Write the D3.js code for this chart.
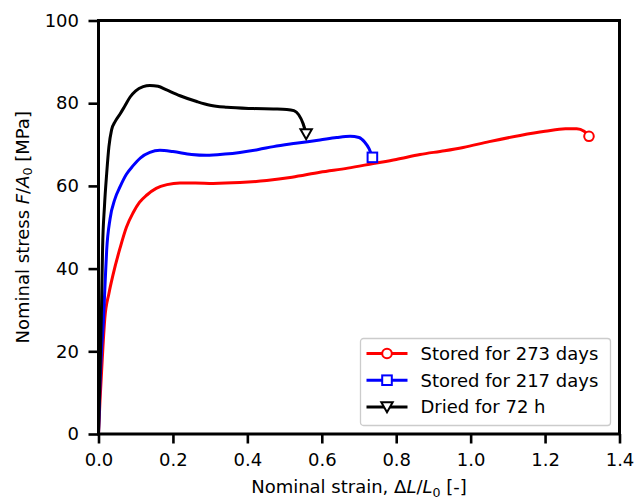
<!DOCTYPE html>
<html>
<head>
<meta charset="utf-8">
<script src="https://cdn.jsdelivr.net/npm/d3@7"></script>
<style>
  body { margin: 0; background: #fff; }
  svg { font-family: "DejaVu Sans", sans-serif; }
</style>
</head>
<body>
<div id="chart"></div>
<script>
// strain [-], stress [MPa]
const stored273 = [
  [0, 0], [0.004, 8], [0.01, 18], [0.017, 28], [0.028, 34], [0.039, 38.5],
  [0.058, 45], [0.075, 50], [0.093, 53.5], [0.11, 56], [0.13, 57.8], [0.155, 59.4],
  [0.184, 60.3], [0.219, 60.7], [0.26, 60.7], [0.308, 60.6], [0.38, 60.8],
  [0.452, 61.3], [0.52, 62.1], [0.595, 63.3], [0.67, 64.3], [0.738, 65.4],
  [0.8, 66.4], [0.864, 67.6], [0.93, 68.5], [0.98, 69.3], [1.05, 70.7],
  [1.133, 72.2], [1.2, 73.2], [1.255, 73.8], [1.285, 73.8], [1.305, 73.2], [1.318, 72]
];
const stored217 = [
  [0, 0], [0.004, 12], [0.008, 20], [0.013, 27], [0.018, 37], [0.022, 44.5],
  [0.031, 52], [0.044, 56.8], [0.058, 59.8], [0.075, 62.8], [0.093, 64.9],
  [0.113, 66.8], [0.138, 68.1], [0.165, 68.6], [0.2, 68.3], [0.25, 67.6],
  [0.29, 67.4], [0.34, 67.7], [0.38, 68.1], [0.43, 68.8], [0.47, 69.5],
  [0.53, 70.3], [0.595, 71.1], [0.64, 71.7], [0.676, 72], [0.7, 71.7],
  [0.715, 70.6], [0.727, 69], [0.736, 66.9]
];
const dried72 = [
  [0, 0], [0.004, 15], [0.008, 30], [0.011, 45], [0.016, 55], [0.022, 63],
  [0.028, 69.5], [0.035, 73.5], [0.045, 75.6], [0.058, 77.4], [0.07, 79.2],
  [0.085, 81.5], [0.1, 83], [0.12, 84], [0.138, 84.3], [0.16, 84.1],
  [0.183, 83.2], [0.219, 81.8], [0.264, 80.4], [0.3, 79.5], [0.345, 79],
  [0.416, 78.7], [0.47, 78.6], [0.506, 78.5], [0.525, 78.2], [0.538, 77.2],
  [0.55, 75], [0.558, 72.6]
];

const seriesNames = ["Stored for 273 days", "Stored for 217 days", "Dried for 72 h"];
const seriesColors = ["#ff0000", "#0000ff", "#000000"];
const seriesMarkers = ["circle", "square", "triangle"];
const xTicks = [0, 0.2, 0.4, 0.6, 0.8, 1.0, 1.2, 1.4];
const yTicks = [0, 20, 40, 60, 80, 100];

const width = 635, height = 499;
const margin = { top: 20.5, right: 15.5, bottom: 65, left: 98.5 };
const fontSize = "18px";

const svg = d3.select("#chart").append("svg")
  .attr("width", width)
  .attr("height", height);

const x = d3.scaleLinear().domain([0, 1.4]).range([margin.left, width - margin.right]);
const y = d3.scaleLinear().domain([0, 100]).range([height - margin.bottom, margin.top]);

const series = [stored273, stored217, dried72];

const line = d3.line()
  .x((d) => x(d[0]))
  .y((d) => y(d[1]))
  .curve(d3.curveMonotoneX);

const plot = svg.append("g");

function drawMarker(g, type, cx, cy, color) {
  if (type === "circle") {
    g.append("circle").attr("cx", cx).attr("cy", cy).attr("r", 4.8)
      .attr("fill", "#fff").attr("stroke", color).attr("stroke-width", 2);
  } else if (type === "square") {
    g.append("rect").attr("x", cx - 4.8).attr("y", cy - 4.8)
      .attr("width", 9.6).attr("height", 9.6)
      .attr("fill", "#fff").attr("stroke", color).attr("stroke-width", 2);
  } else {
    const s = 5.7;
    g.append("path")
      .attr("d", `M${cx - s},${cy - s * 0.8} L${cx + s},${cy - s * 0.8} L${cx},${cy + s * 0.95} Z`)
      .attr("fill", "#fff").attr("stroke", color).attr("stroke-width", 2)
      .attr("stroke-linejoin", "miter");
  }
}

series.forEach((data, i) => {
  plot.append("path")
    .datum(data)
    .attr("fill", "none")
    .attr("stroke", seriesColors[i])
    .attr("stroke-width", 3)
    .attr("stroke-linejoin", "round")
    .attr("d", line);
  const last = data[data.length - 1];
  drawMarker(plot, seriesMarkers[i], x(last[0]), y(last[1]), seriesColors[i]);
});

// axes
const xAxis = svg.append("g")
  .attr("transform", `translate(0,${y(0)})`)
  .call(d3.axisBottom(x).tickValues(xTicks).tickFormat(d3.format(".1f")).tickSize(9.5).tickPadding(9.5));
const yAxis = svg.append("g")
  .attr("transform", `translate(${x(0)},0)`)
  .call(d3.axisLeft(y).tickValues(yTicks).tickFormat(d3.format("d")).tickSize(10).tickPadding(9.5));

[xAxis, yAxis].forEach((a) => {
  a.select(".domain").remove();
  a.selectAll(".tick line").attr("stroke", "#000").attr("stroke-width", 2.6);
  a.selectAll(".tick text")
    .attr("fill", "#000")
    .style("font-size", fontSize)
    .style("font-family", "DejaVu Sans");
});

// frame
svg.append("rect")
  .attr("x", x(0)).attr("y", y(100))
  .attr("width", x(1.4) - x(0)).attr("height", y(0) - y(100))
  .attr("fill", "none").attr("stroke", "#000").attr("stroke-width", 3);

// axis labels
const xl = svg.append("text")
  .attr("x", (x(0) + x(1.4)) / 2).attr("y", 493)
  .attr("text-anchor", "middle").style("font-size", fontSize);
xl.append("tspan").text("Nominal strain, Δ");
xl.append("tspan").attr("font-style", "italic").text("L");
xl.append("tspan").text("/");
xl.append("tspan").attr("font-style", "italic").text("L");
xl.append("tspan").attr("dy", 3.5).style("font-size", "12.6px").text("0");
xl.append("tspan").attr("dy", -3.5).text(" [-]");

const yl = svg.append("text")
  .attr("transform", `translate(28.5,${(y(0) + y(100)) / 2}) rotate(-90)`)
  .attr("text-anchor", "middle").style("font-size", fontSize);
yl.append("tspan").text("Nominal stress ");
yl.append("tspan").attr("font-style", "italic").text("F");
yl.append("tspan").text("/");
yl.append("tspan").attr("font-style", "italic").text("A");
yl.append("tspan").attr("dy", 3.5).style("font-size", "12.6px").text("0");
yl.append("tspan").attr("dy", -3.5).text(" [MPa]");

// legend
const legend = svg.append("g").attr("transform", "translate(360.5,338.5)");
legend.append("rect")
  .attr("width", 250).attr("height", 87).attr("rx", 3)
  .attr("fill", "#fff").attr("fill-opacity", 0.8)
  .attr("stroke", "#cccccc").attr("stroke-width", 1.3);
seriesNames.forEach((name, i) => {
  const ly = 15 + i * 26.7;
  legend.append("line")
    .attr("x1", 6).attr("x2", 47).attr("y1", ly).attr("y2", ly)
    .attr("stroke", seriesColors[i]).attr("stroke-width", 3);
  drawMarker(legend, seriesMarkers[i], 26.5, ly, seriesColors[i]);
  legend.append("text")
    .attr("x", 60).attr("y", ly + 6.5)
    .style("font-size", fontSize)
    .text(name);
});
</script>
</body>
</html>
